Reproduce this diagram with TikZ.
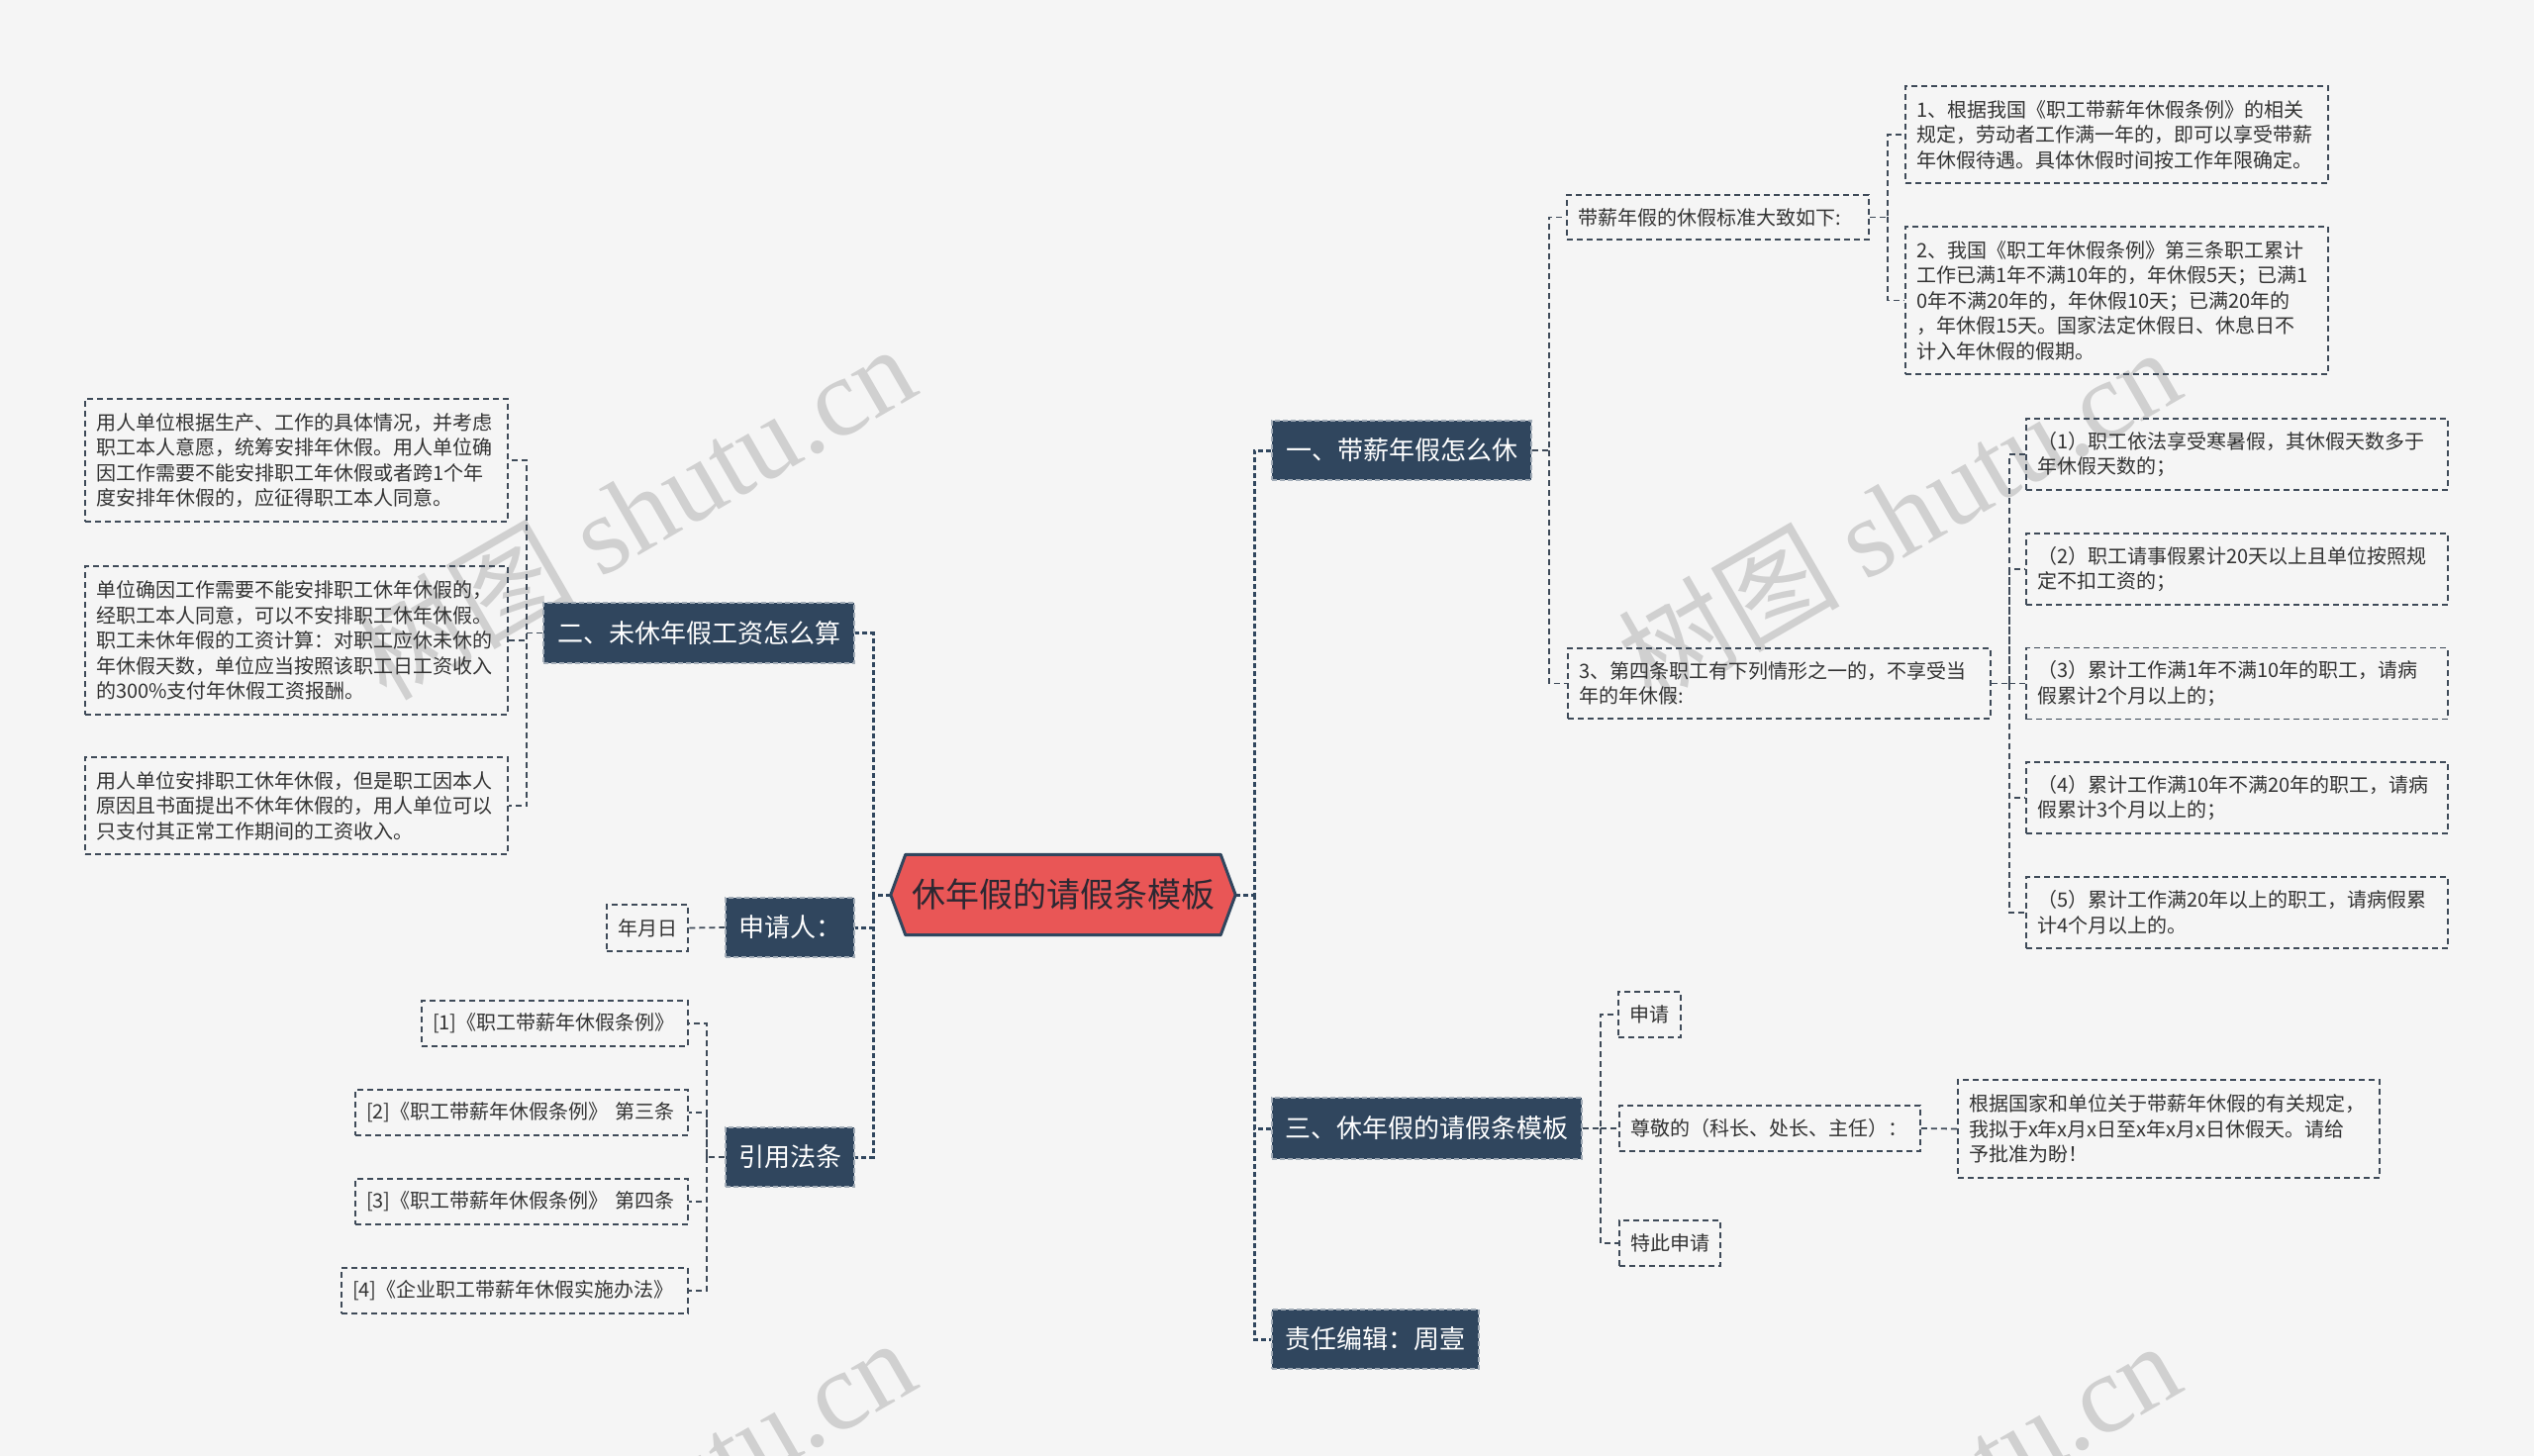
\documentclass[tikz,border=0pt]{standalone}
\usepackage{fontspec}
\setmainfont{Noto Sans CJK SC}
\newfontfamily\wmserif{Liberation Serif}
\newfontfamily\wmcjk{Noto Sans CJK SC}
\usetikzlibrary{calc}
\definecolor{bgC}{RGB}{245,245,245}
\definecolor{navyC}{RGB}{48,70,94}
\definecolor{lineC}{RGB}{62,74,88}
\definecolor{txtC}{RGB}{51,51,51}
\definecolor{rootC}{RGB}{233,86,86}
\definecolor{wmC}{RGB}{208,208,208}
\newcommand\fsm{\fontsize{20}{25.5}\selectfont}
\newcommand\fbr{\fontsize{26}{30}\selectfont}
\newcommand\frt{\fontsize{34}{40}\selectfont}
\tikzset{
  leaf/.style={draw=lineC, line width=1.6pt, dash pattern=on 6pt off 4pt,
    inner xsep=11pt, inner ysep=0pt, align=left, font=\fsm, text=txtC},
  topic/.style={fill=navyC, draw=navyC!45!white, line width=1.4pt, dash pattern=on 5pt off 3pt,
    text=white, font=\fbr, inner sep=0pt, align=center},
  conn/.style={draw=lineC, line width=1.8pt, dash pattern=on 6pt off 4pt},
  trunk/.style={draw=navyC, line width=3pt, dash pattern=on 5pt off 3pt},
  wm/.style={rotate=30, text=wmC, inner sep=0pt},
}
\begin{document}
\begin{tikzpicture}[x=1pt,y=-1pt]
\useasboundingbox (0,0) rectangle (2560,1471);
\fill[bgC] (0,0) rectangle (2560,1471);

% watermarks
\begin{scope}
\clip (0,0) rectangle (2560,1471);
\node[wm] (wm1) at (640,516) {\fontsize{112}{112}\selectfont\wmcjk 树图 \wmserif shutu.cn};
\node[wm] (wm2) at (1918,519) {\fontsize{112}{112}\selectfont\wmcjk 树图 \wmserif shutu.cn};
\node[wm] (wm3) at (640,1520) {\fontsize{112}{112}\selectfont\wmcjk 树图 \wmserif shutu.cn};
\node[wm] (wm4) at (1918,1523) {\fontsize{112}{112}\selectfont\wmcjk 树图 \wmserif shutu.cn};
\end{scope}

% bus coordinates
\coordinate (tL) at (882,0);
\coordinate (tR) at (1267,0);
\coordinate (b1) at (1565,0);
\coordinate (b1a) at (1907,0);
\coordinate (b1b) at (2030,0);
\coordinate (b3) at (1617,0);
\coordinate (b2) at (532,0);
\coordinate (b6) at (714,0);

% root
\node[minimum width=348pt, minimum height=81pt, inner sep=0pt] (root) at (1074,904) {};
\filldraw[fill=rootC, draw=navyC, line width=3pt, line join=round]
  (root.west) -- ([xshift=15pt]root.north west) -- ([xshift=-15pt]root.north east)
  -- (root.east) -- ([xshift=-15pt]root.south east) -- ([xshift=15pt]root.south west) -- cycle;
\node[font=\frt, text={rgb,255:red,45;green,40;blue,50}] (rootlabel) at (root.center) {休年假的请假条模板};

% main branches
\node[topic, minimum width=262pt, minimum height=60pt] (br1) at (1416,455) {一、带薪年假怎么休};
\node[topic, minimum width=313pt, minimum height=62pt] (br3) at (1441.5,1140) {三、休年假的请假条模板};
\node[topic, minimum width=209pt, minimum height=60pt] (br4) at (1389.5,1353) {责任编辑：周壹};
\node[topic, minimum width=314pt, minimum height=61pt] (br2) at (706,639.5) {二、未休年假工资怎么算};
\node[topic, minimum width=130pt, minimum height=60pt] (br5) at (798,937) {申请人：};
\node[topic, minimum width=130pt, minimum height=60pt] (br6) at (798,1169) {引用法条};

% branch 1 leaves
\node[leaf, text width=283pt, minimum height=45pt] (s1) at (1735.5,219.5) {带薪年假的休假标准大致如下:};
\node[leaf, text width=405pt, minimum height=98pt] (s1a) at (2138.5,136) {1、根据我国《职工带薪年休假条例》的相关\\规定，劳动者工作满一年的，即可以享受带薪\\年休假待遇。具体休假时间按工作年限确定。};
\node[leaf, text width=405pt, minimum height=149pt] (s1b) at (2138.5,303.5) {2、我国《职工年休假条例》第三条职工累计\\工作已满1年不满10年的，年休假5天；已满1\\0年不满20年的，年休假10天；已满20年的\\，年休假15天。国家法定休假日、休息日不\\计入年休假的假期。};
\node[leaf, text width=405pt, minimum height=71pt] (s2) at (1797.5,690.5) {3、第四条职工有下列情形之一的，不享受当\\年的年休假:};
\node[leaf, text width=404pt, minimum height=72pt] (s2a) at (2260,459) {（1）职工依法享受寒暑假，其休假天数多于\\年休假天数的；};
\node[leaf, text width=404pt, minimum height=72pt] (s2b) at (2260,575) {（2）职工请事假累计20天以上且单位按照规\\定不扣工资的；};
\node[leaf, text width=404pt, minimum height=72pt] (s2c) at (2260,690.5) {（3）累计工作满1年不满10年的职工，请病\\假累计2个月以上的；};
\node[leaf, text width=404pt, minimum height=72pt] (s2d) at (2260,806) {（4）累计工作满10年不满20年的职工，请病\\假累计3个月以上的；};
\node[leaf, text width=404pt, minimum height=72pt] (s2e) at (2260,922) {（5）累计工作满20年以上的职工，请病假累\\计4个月以上的。};

% branch 3 leaves
\node[leaf, text width=41pt, minimum height=46pt] (t1) at (1666.5,1025) {申请};
\node[leaf, text width=282pt, minimum height=46pt] (t2) at (1788,1140) {尊敬的（科长、处长、主任）：};
\node[leaf, text width=80pt, minimum height=46pt] (t3) at (1687,1256) {特此申请};
\node[leaf, text width=404pt, minimum height=99pt] (t2a) at (2191,1140.5) {根据国家和单位关于带薪年休假的有关规定，\\我拟于x年x月x日至x年x月x日休假天。请给\\予批准为盼！};

% branch 2 leaves
\node[leaf, text width=405pt, minimum height=124pt] (la) at (299.5,465) {用人单位根据生产、工作的具体情况，并考虑\\职工本人意愿，统筹安排年休假。用人单位确\\因工作需要不能安排职工年休假或者跨1个年\\度安排年休假的，应征得职工本人同意。};
\node[leaf, text width=405pt, minimum height=150pt] (lb) at (299.5,647) {单位确因工作需要不能安排职工休年休假的，\\经职工本人同意，可以不安排职工休年休假。\\职工未休年假的工资计算：对职工应休未休的\\年休假天数，单位应当按照该职工日工资收入\\的300\%支付年休假工资报酬。};
\node[leaf, text width=405pt, minimum height=98pt] (lc) at (299.5,814) {用人单位安排职工休年休假，但是职工因本人\\原因且书面提出不休年休假的，用人单位可以\\只支付其正常工作期间的工资收入。};

% branch 5 / 6 leaves
\node[leaf, text width=60pt, minimum height=47pt] (ymd) at (654,937.5) {年月日};
\node[leaf, text width=247pt, minimum height=46pt] (r1) at (560.5,1034) {[1]《职工带薪年休假条例》};
\node[leaf, text width=314pt, minimum height=46pt] (r2) at (527,1124) {[2]《职工带薪年休假条例》 第三条};
\node[leaf, text width=314pt, minimum height=46pt] (r3) at (527,1214) {[3]《职工带薪年休假条例》 第四条};
\node[leaf, text width=328pt, minimum height=46pt] (r4) at (520,1304) {[4]《企业职工带薪年休假实施办法》};

% trunk connectors
\draw[trunk] (root.east) -- (root.east -| tR) |- (br1.west);
\draw[trunk] (root.east -| tR) |- (br3.west);
\draw[trunk] (root.east -| tR) |- (br4.west);
\draw[trunk] (root.west) -- (root.west -| tL) |- (br2.east);
\draw[trunk] (root.west -| tL) |- (br5.east);
\draw[trunk] (root.west -| tL) |- (br6.east);

% branch 1 connectors
\draw[conn] (br1.east) -- (br1.east -| b1) |- (s1.west);
\draw[conn] (br1.east -| b1) |- (s2.west);
\draw[conn] (s1.east) -- (s1.east -| b1a) |- (s1a.west);
\draw[conn] (s1.east -| b1a) |- (s1b.west);
\draw[conn] (s2.east) -- (s2.east -| b1b) |- (s2a.west);
\draw[conn] (s2.east -| b1b) |- (s2b.west);
\draw[conn] (s2.east -| b1b) |- (s2c.west);
\draw[conn] (s2.east -| b1b) |- (s2d.west);
\draw[conn] (s2.east -| b1b) |- (s2e.west);

% branch 3 connectors
\draw[conn] (br3.east) -- (br3.east -| b3) |- (t1.west);
\draw[conn] (br3.east -| b3) |- (t2.west);
\draw[conn] (br3.east -| b3) |- (t3.west);
\draw[conn] (t2.east) -- (t2a.west);

% branch 2 connectors
\draw[conn] (br2.west) -- (br2.west -| b2) |- (la.east);
\draw[conn] (br2.west -| b2) |- (lb.east);
\draw[conn] (br2.west -| b2) |- (lc.east);

% branch 5 / 6 connectors
\draw[conn] (br5.west) -- (ymd.east);
\draw[conn] (br6.west) -- (br6.west -| b6) |- (r1.east);
\draw[conn] (br6.west -| b6) |- (r2.east);
\draw[conn] (br6.west -| b6) |- (r3.east);
\draw[conn] (br6.west -| b6) |- (r4.east);
\end{tikzpicture}
\end{document}
